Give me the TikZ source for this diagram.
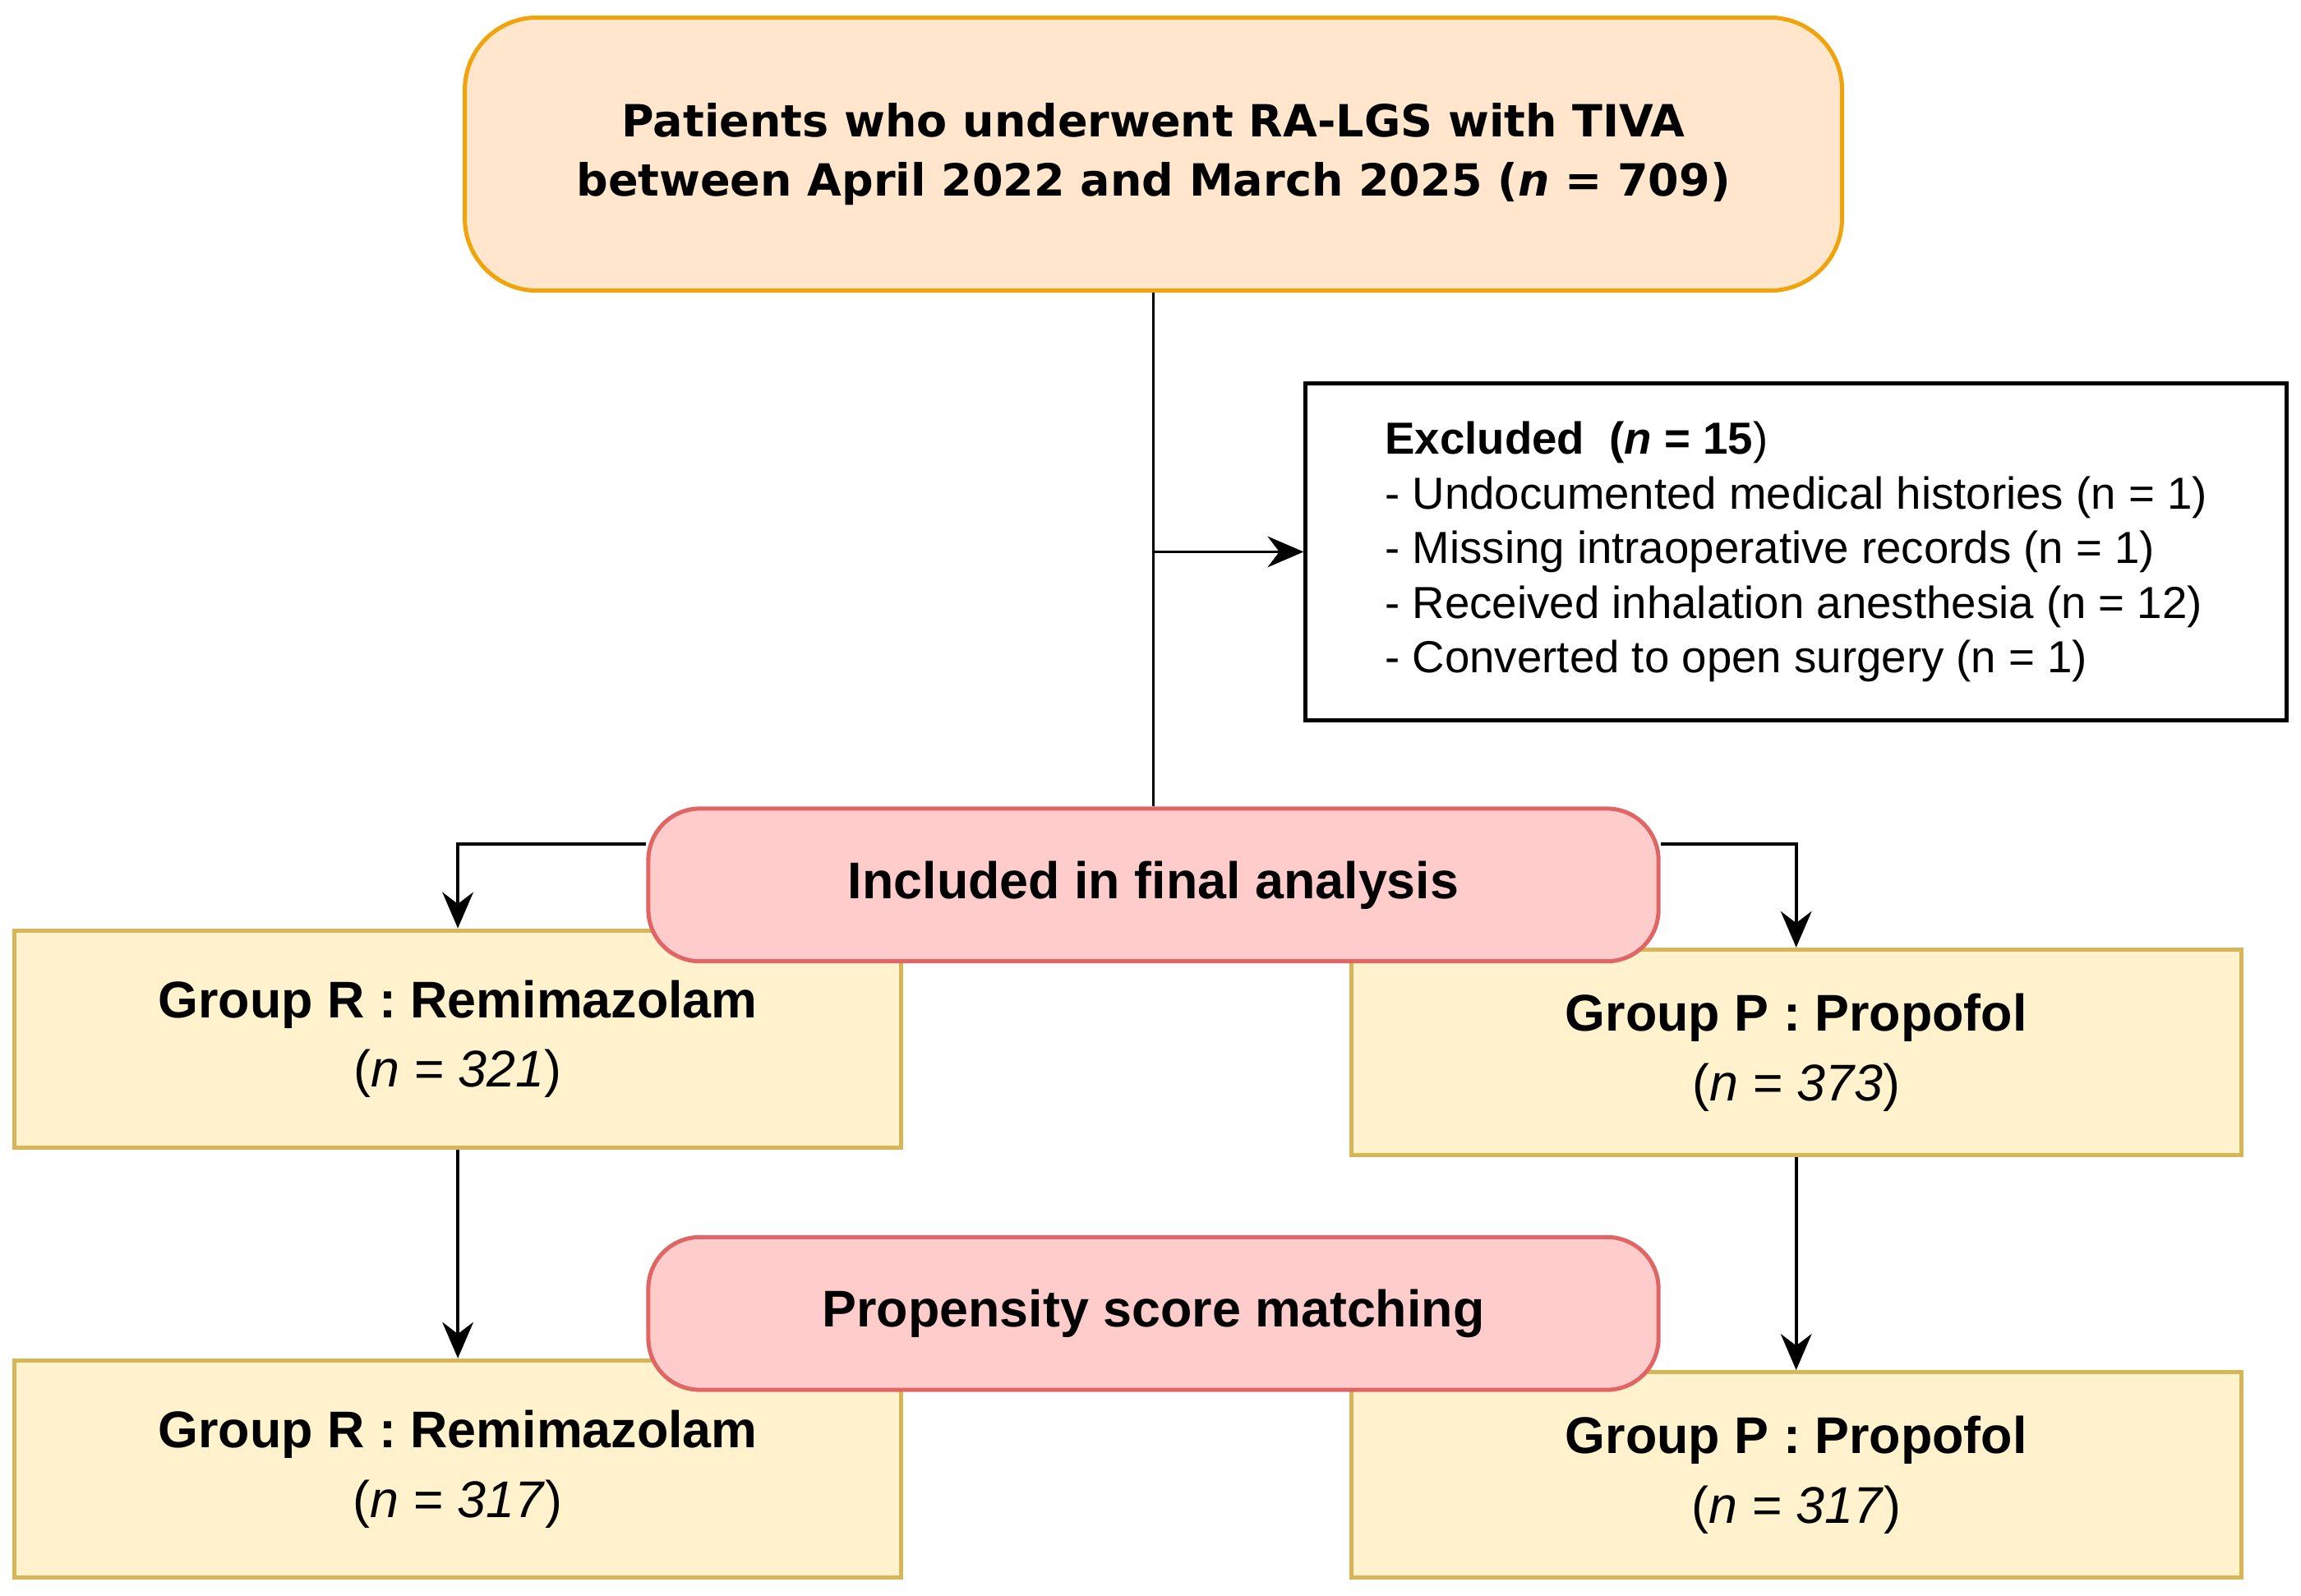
\documentclass[tikz,border=0pt]{standalone}
\usepackage{fontspec}
\setmainfont{Liberation Sans}
\newfontfamily\headfont{DejaVu Sans}
\usetikzlibrary{arrows.meta}
\definecolor{orfill}{HTML}{FFE6CC}
\definecolor{ordraw}{HTML}{F0A30A}
\definecolor{pkfill}{HTML}{FFCCCC}
\definecolor{pkdraw}{HTML}{E06666}
\definecolor{grfill}{HTML}{FFF2CC}
\definecolor{grdraw}{HTML}{D6B656}
\begin{document}
\begin{tikzpicture}[x=0.01cm,y=-0.01cm, thick,
    topbox/.style={draw=ordraw, fill=orfill, rounded corners=14pt, minimum width=9.38cm, minimum height=1.86cm, align=center, font=\headfont\bfseries\fontsize{8.6}{11.5}\selectfont},
    stepbox/.style={draw=pkdraw, fill=pkfill, rounded corners=10pt, minimum width=6.88cm, minimum height=1.04cm, font=\bfseries\fontsize{10}{12}\selectfont},
    grpbox/.style={draw=grdraw, fill=grfill, minimum width=6.04cm, align=center, font=\fontsize{10}{13.5}\selectfont},
    exbox/.style={draw, fill=white, minimum width=6.68cm, minimum height=2.29cm, align=left, font=\fontsize{8.7}{10.6}\selectfont},
    arr/.style={-{Stealth[length=7pt,width=6pt]}, line width=0.6pt}]
\useasboundingbox (0,0) rectangle (1568,1087);
\node[topbox] (all) at (786,105) {Patients who underwent RA-LGS with TIVA\\between April 2022 and March 2025 (\textit{n} = 709)};
\node[exbox] (excl) at (1224,376) {\textbf{Excluded\ \ (\textit{n} = 15})\\- Undocumented medical histories (n = 1)\\- Missing intraoperative records (n = 1)\\- Received inhalation anesthesia (n = 12)\\- Converted to open surgery (n = 1)};
\node[grpbox, minimum height=1.48cm] (grpR) at (312,708) {\textbf{Group R : Remimazolam}\\(\textit{n = 321})};
\node[grpbox, minimum width=6.06cm, minimum height=1.40cm] (grpP) at (1224,717) {\textbf{Group P : Propofol}\\(\textit{n = 373})};
\node[grpbox, minimum height=1.48cm] (matR) at (312,1001) {\textbf{Group R : Remimazolam}\\(\textit{n = 317})};
\node[grpbox, minimum width=6.06cm, minimum height=1.40cm] (matP) at (1224,1005) {\textbf{Group P : Propofol}\\(\textit{n = 317})};
\node[stepbox] (incl) at (786,603) {Included in final analysis};
\node[stepbox] (psm) at (786,895) {Propensity score matching};
\coordinate (split) at (all.south |- excl.west);
\draw[line width=0.6pt] (all.south) -- (incl.north);
\draw[arr] (split) -- (excl.west);
\draw[arr] (incl.west |- 0,575) -| (grpR.north);
\draw[arr] (incl.east |- 0,575) -| (grpP.north);
\draw[arr] (grpR.south) -- (matR.north);
\draw[arr] (grpP.south) -- (matP.north);
\end{tikzpicture}
\end{document}
